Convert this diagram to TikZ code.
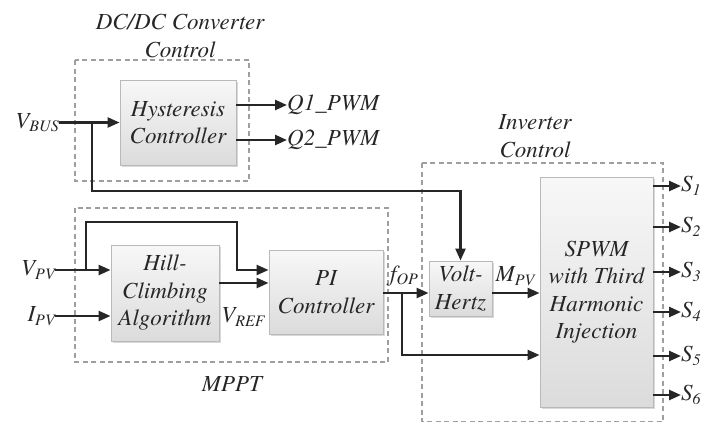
\documentclass[tikz,border=0pt]{standalone}
\usepackage{fontspec}
\setmainfont{texgyretermes}[Extension=.otf, UprightFont=*-regular, ItalicFont=*-italic, BoldFont=*-bold, BoldItalicFont=*-bolditalic]
\usetikzlibrary{arrows.meta,shadows}

% lowered, smaller subscript in running italic text
\newcommand\lsub[1]{\raisebox{-0.35ex}{\fontsize{16}{16}\selectfont #1}}

\begin{document}
\begin{tikzpicture}[x=1pt,y=-1pt,
  every node/.style={font=\fontsize{23}{27.5}\selectfont\itshape, text=black!85},
  blockbox/.style={draw=gray!55, line width=0.9pt,
    top color=white!97!black, bottom color=white!86!black,
    drop shadow={shadow xshift=1.5pt, shadow yshift=-1.5pt, opacity=0.3},
    align=center, inner sep=0pt},
  groupbox/.style={draw=gray!75, line width=1.1pt, dash pattern=on 5pt off 3.5pt},
  sig/.style={line width=2.4pt, draw=black!85, -{Triangle[length=12pt,width=10pt]}},
  lbl/.style={inner sep=0pt},
  title/.style={align=center, inner sep=0pt}
]
\useasboundingbox (0,0) rectangle (717,423);

% group frames and their titles
\draw[groupbox] (75,60) rectangle (249,181);
\draw[groupbox] (75,208) rectangle (388,362);
\draw[groupbox] (422,163) rectangle (663,421.5);
\node[title] (dctitle) at (180,36) {DC/DC Converter\\Control};
\node[title] (invtitle) at (535,136) {Inverter\\Control};
\node[title] (mppttitle) at (232,384) {MPPT};

% blocks
\node[blockbox, minimum width=116pt, minimum height=85pt] (hyst) at (178,122.5) {Hysteresis\\Controller};
\node[blockbox, minimum width=108pt, minimum height=96pt] (hill) at (165,293) {Hill-\\Climbing\\Algorithm};
\node[blockbox, minimum width=114pt, minimum height=84pt] (pi) at (326,292) {PI\\Controller};
\node[blockbox, minimum width=63pt, minimum height=55pt] (vh) at (460.5,288.5) {Volt-\\Hertz};
\node[blockbox, minimum width=113pt, minimum height=230pt] (spwm) at (596.5,292) {SPWM\\with Third\\Harmonic\\Injection};

% signal names
\node[lbl, anchor=east] (vbus) at (59,122.5) {V\lsub{BUS}};
\node[lbl, anchor=west] (q1) at (287,105) {Q1\_PWM};
\node[lbl, anchor=west] (q2) at (287,140) {Q2\_PWM};
\node[lbl, anchor=east] (vpv) at (55,270) {V\lsub{PV}};
\node[lbl, anchor=east] (ipv) at (55,316) {I\lsub{PV}};
\node[lbl] (vref) at (243,317) {V\lsub{REF}};
\node[lbl] (fop) at (404,276) {f\lsub{OP}};
\node[lbl] (mpv) at (515,276) {M\lsub{PV}};

% branch points
\coordinate (bj) at (92,122.5);
\coordinate (pj) at (86,270);
\coordinate (pk) at (237,222);
\coordinate (fj) at (402,293);

% DC/DC converter control
\draw[sig] (vbus.east) -- (vbus.east -| hyst.west);
\draw[sig] (hyst.east |- q1.west) -- (q1.west);
\draw[sig] (hyst.east |- q2.west) -- (q2.west);
\draw[sig] (bj) -- (bj |- 0,191) -| (vh.north);

% MPPT
\draw[sig] (vpv.east) -- (vpv.east -| hill.west);
\draw[sig] (ipv.east) -- (ipv.east -| hill.west);
\draw[sig] (pj) |- (pk) |- (pi.west |- pj);
\draw[sig] (hill.east |- 0,283) -- (pi.west |- 0,283);

% inverter control
\draw[sig] (pi.east |- fj) -- (vh.west |- fj);
\draw[sig] (fj) |- (spwm.west |- 0,355);
\draw[sig] (vh.east |- fj) -- (spwm.west |- fj);

\foreach \i/\yy in {1/186,2/227,3/272,4/312,5/356,6/395}{
  \node[lbl, anchor=west] (s\i) at (681,\yy) {S\lsub{\i}};
  \draw[sig] (spwm.east |- s\i.west) -- (s\i.west);
}
\end{tikzpicture}
\end{document}
